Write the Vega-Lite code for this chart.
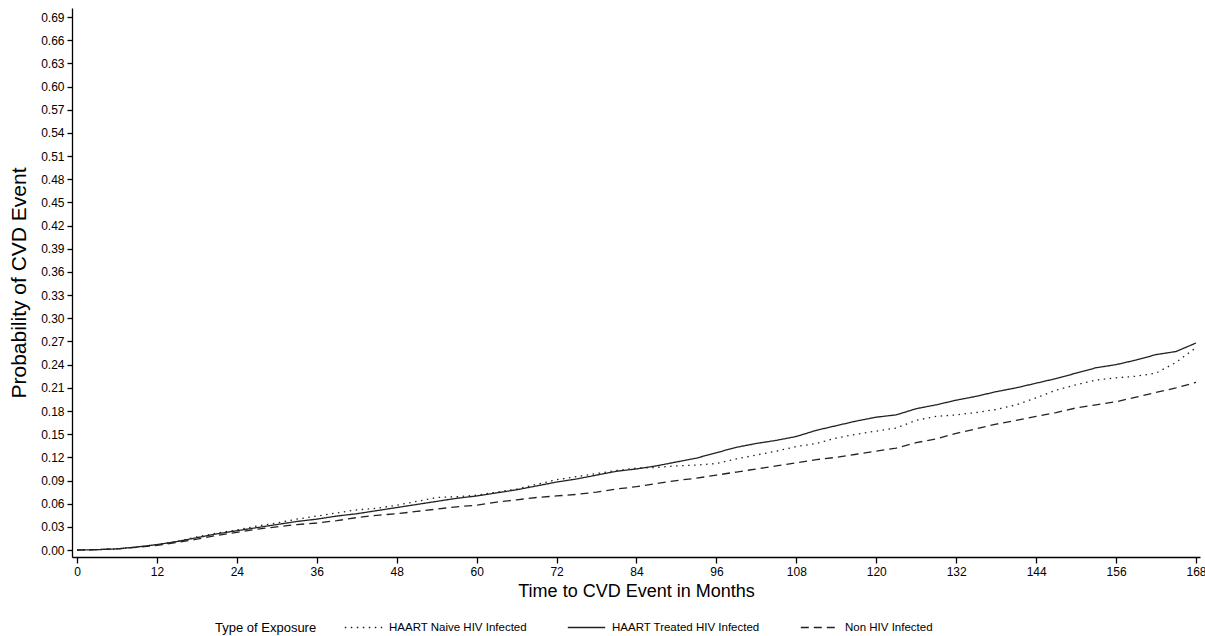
{
"$schema": "https://vega.github.io/schema/vega-lite/v6.json",
"width": 1128, "height": 549,
"autosize": "none",
"padding": {"left": 72, "top": 8, "right": 5, "bottom": 79},
"background": "white",
"config": {"view": {"stroke": null}, "font": "Liberation Sans"},
"data": {"values": [
{"m":0,"p":0,"g":"HAART Naive HIV Infected"},{"m":3,"p":0.0005,"g":"HAART Naive HIV Infected"},{"m":6,"p":0.0015,"g":"HAART Naive HIV Infected"},{"m":9,"p":0.004,"g":"HAART Naive HIV Infected"},{"m":12,"p":0.007,"g":"HAART Naive HIV Infected"},{"m":15,"p":0.011,"g":"HAART Naive HIV Infected"},{"m":18,"p":0.017,"g":"HAART Naive HIV Infected"},{"m":21,"p":0.022,"g":"HAART Naive HIV Infected"},{"m":24,"p":0.026,"g":"HAART Naive HIV Infected"},{"m":27,"p":0.031,"g":"HAART Naive HIV Infected"},{"m":30,"p":0.035,"g":"HAART Naive HIV Infected"},{"m":33,"p":0.040,"g":"HAART Naive HIV Infected"},{"m":36,"p":0.044,"g":"HAART Naive HIV Infected"},{"m":39,"p":0.048,"g":"HAART Naive HIV Infected"},{"m":42,"p":0.052,"g":"HAART Naive HIV Infected"},{"m":45,"p":0.054,"g":"HAART Naive HIV Infected"},{"m":48,"p":0.058,"g":"HAART Naive HIV Infected"},{"m":51,"p":0.063,"g":"HAART Naive HIV Infected"},{"m":54,"p":0.068,"g":"HAART Naive HIV Infected"},{"m":57,"p":0.069,"g":"HAART Naive HIV Infected"},{"m":60,"p":0.071,"g":"HAART Naive HIV Infected"},{"m":63,"p":0.075,"g":"HAART Naive HIV Infected"},{"m":66,"p":0.079,"g":"HAART Naive HIV Infected"},{"m":69,"p":0.085,"g":"HAART Naive HIV Infected"},{"m":72,"p":0.091,"g":"HAART Naive HIV Infected"},{"m":75,"p":0.095,"g":"HAART Naive HIV Infected"},{"m":78,"p":0.099,"g":"HAART Naive HIV Infected"},{"m":81,"p":0.103,"g":"HAART Naive HIV Infected"},{"m":84,"p":0.106,"g":"HAART Naive HIV Infected"},{"m":87,"p":0.107,"g":"HAART Naive HIV Infected"},{"m":90,"p":0.109,"g":"HAART Naive HIV Infected"},{"m":93,"p":0.110,"g":"HAART Naive HIV Infected"},{"m":96,"p":0.112,"g":"HAART Naive HIV Infected"},{"m":99,"p":0.118,"g":"HAART Naive HIV Infected"},{"m":102,"p":0.123,"g":"HAART Naive HIV Infected"},{"m":105,"p":0.128,"g":"HAART Naive HIV Infected"},{"m":108,"p":0.134,"g":"HAART Naive HIV Infected"},{"m":111,"p":0.138,"g":"HAART Naive HIV Infected"},{"m":114,"p":0.145,"g":"HAART Naive HIV Infected"},{"m":117,"p":0.150,"g":"HAART Naive HIV Infected"},{"m":120,"p":0.154,"g":"HAART Naive HIV Infected"},{"m":123,"p":0.158,"g":"HAART Naive HIV Infected"},{"m":126,"p":0.168,"g":"HAART Naive HIV Infected"},{"m":129,"p":0.173,"g":"HAART Naive HIV Infected"},{"m":132,"p":0.175,"g":"HAART Naive HIV Infected"},{"m":135,"p":0.178,"g":"HAART Naive HIV Infected"},{"m":138,"p":0.182,"g":"HAART Naive HIV Infected"},{"m":141,"p":0.188,"g":"HAART Naive HIV Infected"},{"m":144,"p":0.197,"g":"HAART Naive HIV Infected"},{"m":147,"p":0.207,"g":"HAART Naive HIV Infected"},{"m":150,"p":0.214,"g":"HAART Naive HIV Infected"},{"m":153,"p":0.220,"g":"HAART Naive HIV Infected"},{"m":156,"p":0.223,"g":"HAART Naive HIV Infected"},{"m":159,"p":0.225,"g":"HAART Naive HIV Infected"},{"m":162,"p":0.229,"g":"HAART Naive HIV Infected"},{"m":165,"p":0.243,"g":"HAART Naive HIV Infected"},{"m":168,"p":0.262,"g":"HAART Naive HIV Infected"},
{"m":0,"p":0,"g":"HAART Treated HIV Infected"},{"m":3,"p":0.0005,"g":"HAART Treated HIV Infected"},{"m":6,"p":0.0015,"g":"HAART Treated HIV Infected"},{"m":9,"p":0.004,"g":"HAART Treated HIV Infected"},{"m":12,"p":0.007,"g":"HAART Treated HIV Infected"},{"m":15,"p":0.011,"g":"HAART Treated HIV Infected"},{"m":18,"p":0.016,"g":"HAART Treated HIV Infected"},{"m":21,"p":0.021,"g":"HAART Treated HIV Infected"},{"m":24,"p":0.025,"g":"HAART Treated HIV Infected"},{"m":27,"p":0.029,"g":"HAART Treated HIV Infected"},{"m":30,"p":0.033,"g":"HAART Treated HIV Infected"},{"m":33,"p":0.037,"g":"HAART Treated HIV Infected"},{"m":36,"p":0.040,"g":"HAART Treated HIV Infected"},{"m":39,"p":0.044,"g":"HAART Treated HIV Infected"},{"m":42,"p":0.047,"g":"HAART Treated HIV Infected"},{"m":45,"p":0.051,"g":"HAART Treated HIV Infected"},{"m":48,"p":0.055,"g":"HAART Treated HIV Infected"},{"m":51,"p":0.059,"g":"HAART Treated HIV Infected"},{"m":54,"p":0.063,"g":"HAART Treated HIV Infected"},{"m":57,"p":0.067,"g":"HAART Treated HIV Infected"},{"m":60,"p":0.070,"g":"HAART Treated HIV Infected"},{"m":63,"p":0.074,"g":"HAART Treated HIV Infected"},{"m":66,"p":0.078,"g":"HAART Treated HIV Infected"},{"m":69,"p":0.083,"g":"HAART Treated HIV Infected"},{"m":72,"p":0.088,"g":"HAART Treated HIV Infected"},{"m":75,"p":0.092,"g":"HAART Treated HIV Infected"},{"m":78,"p":0.097,"g":"HAART Treated HIV Infected"},{"m":81,"p":0.102,"g":"HAART Treated HIV Infected"},{"m":84,"p":0.105,"g":"HAART Treated HIV Infected"},{"m":87,"p":0.109,"g":"HAART Treated HIV Infected"},{"m":90,"p":0.114,"g":"HAART Treated HIV Infected"},{"m":93,"p":0.119,"g":"HAART Treated HIV Infected"},{"m":96,"p":0.126,"g":"HAART Treated HIV Infected"},{"m":99,"p":0.133,"g":"HAART Treated HIV Infected"},{"m":102,"p":0.138,"g":"HAART Treated HIV Infected"},{"m":105,"p":0.142,"g":"HAART Treated HIV Infected"},{"m":108,"p":0.147,"g":"HAART Treated HIV Infected"},{"m":111,"p":0.155,"g":"HAART Treated HIV Infected"},{"m":114,"p":0.161,"g":"HAART Treated HIV Infected"},{"m":117,"p":0.167,"g":"HAART Treated HIV Infected"},{"m":120,"p":0.172,"g":"HAART Treated HIV Infected"},{"m":123,"p":0.175,"g":"HAART Treated HIV Infected"},{"m":126,"p":0.183,"g":"HAART Treated HIV Infected"},{"m":129,"p":0.188,"g":"HAART Treated HIV Infected"},{"m":132,"p":0.194,"g":"HAART Treated HIV Infected"},{"m":135,"p":0.199,"g":"HAART Treated HIV Infected"},{"m":138,"p":0.205,"g":"HAART Treated HIV Infected"},{"m":141,"p":0.210,"g":"HAART Treated HIV Infected"},{"m":144,"p":0.216,"g":"HAART Treated HIV Infected"},{"m":147,"p":0.222,"g":"HAART Treated HIV Infected"},{"m":150,"p":0.229,"g":"HAART Treated HIV Infected"},{"m":153,"p":0.236,"g":"HAART Treated HIV Infected"},{"m":156,"p":0.240,"g":"HAART Treated HIV Infected"},{"m":159,"p":0.246,"g":"HAART Treated HIV Infected"},{"m":162,"p":0.253,"g":"HAART Treated HIV Infected"},{"m":165,"p":0.257,"g":"HAART Treated HIV Infected"},{"m":168,"p":0.268,"g":"HAART Treated HIV Infected"},
{"m":0,"p":0,"g":"Non HIV Infected"},{"m":3,"p":0.0005,"g":"Non HIV Infected"},{"m":6,"p":0.0015,"g":"Non HIV Infected"},{"m":9,"p":0.0035,"g":"Non HIV Infected"},{"m":12,"p":0.006,"g":"Non HIV Infected"},{"m":15,"p":0.010,"g":"Non HIV Infected"},{"m":18,"p":0.014,"g":"Non HIV Infected"},{"m":21,"p":0.019,"g":"Non HIV Infected"},{"m":24,"p":0.023,"g":"Non HIV Infected"},{"m":27,"p":0.027,"g":"Non HIV Infected"},{"m":30,"p":0.030,"g":"Non HIV Infected"},{"m":33,"p":0.033,"g":"Non HIV Infected"},{"m":36,"p":0.035,"g":"Non HIV Infected"},{"m":39,"p":0.038,"g":"Non HIV Infected"},{"m":42,"p":0.042,"g":"Non HIV Infected"},{"m":45,"p":0.045,"g":"Non HIV Infected"},{"m":48,"p":0.047,"g":"Non HIV Infected"},{"m":51,"p":0.050,"g":"Non HIV Infected"},{"m":54,"p":0.053,"g":"Non HIV Infected"},{"m":57,"p":0.056,"g":"Non HIV Infected"},{"m":60,"p":0.058,"g":"Non HIV Infected"},{"m":63,"p":0.062,"g":"Non HIV Infected"},{"m":66,"p":0.065,"g":"Non HIV Infected"},{"m":69,"p":0.068,"g":"Non HIV Infected"},{"m":72,"p":0.070,"g":"Non HIV Infected"},{"m":75,"p":0.072,"g":"Non HIV Infected"},{"m":78,"p":0.075,"g":"Non HIV Infected"},{"m":81,"p":0.079,"g":"Non HIV Infected"},{"m":84,"p":0.082,"g":"Non HIV Infected"},{"m":87,"p":0.086,"g":"Non HIV Infected"},{"m":90,"p":0.090,"g":"Non HIV Infected"},{"m":93,"p":0.093,"g":"Non HIV Infected"},{"m":96,"p":0.097,"g":"Non HIV Infected"},{"m":99,"p":0.101,"g":"Non HIV Infected"},{"m":102,"p":0.105,"g":"Non HIV Infected"},{"m":105,"p":0.109,"g":"Non HIV Infected"},{"m":108,"p":0.113,"g":"Non HIV Infected"},{"m":111,"p":0.117,"g":"Non HIV Infected"},{"m":114,"p":0.120,"g":"Non HIV Infected"},{"m":117,"p":0.124,"g":"Non HIV Infected"},{"m":120,"p":0.128,"g":"Non HIV Infected"},{"m":123,"p":0.132,"g":"Non HIV Infected"},{"m":126,"p":0.139,"g":"Non HIV Infected"},{"m":129,"p":0.144,"g":"Non HIV Infected"},{"m":132,"p":0.151,"g":"Non HIV Infected"},{"m":135,"p":0.157,"g":"Non HIV Infected"},{"m":138,"p":0.163,"g":"Non HIV Infected"},{"m":141,"p":0.168,"g":"Non HIV Infected"},{"m":144,"p":0.173,"g":"Non HIV Infected"},{"m":147,"p":0.178,"g":"Non HIV Infected"},{"m":150,"p":0.184,"g":"Non HIV Infected"},{"m":153,"p":0.188,"g":"Non HIV Infected"},{"m":156,"p":0.192,"g":"Non HIV Infected"},{"m":159,"p":0.198,"g":"Non HIV Infected"},{"m":162,"p":0.204,"g":"Non HIV Infected"},{"m":165,"p":0.210,"g":"Non HIV Infected"},{"m":168,"p":0.217,"g":"Non HIV Infected"}
]},
"mark": {"type": "line", "color": "#222222", "strokeWidth": 1.3},
"encoding": {
"x": {"field": "m", "type": "quantitative",
 "scale": {"domain": [-0.75, 168.6], "nice": false, "zero": false},
 "axis": {"values": [0,12,24,36,48,60,72,84,96,108,120,132,144,156,168], "title": "Time to CVD Event in Months",
  "titleFont": "Liberation Sans", "titleFontSize": 18, "titleFontWeight": "normal", "titleColor": "black", "titlePadding": 5,
  "labelFont": "Liberation Sans", "labelFontSize": 12, "labelColor": "black", "labelPadding": 3,
  "domainColor": "black", "domainWidth": 1.3, "tickColor": "black", "tickWidth": 1.3, "tickSize": 6, "grid": false}},
"y": {"field": "p", "type": "quantitative",
 "scale": {"domain": [-0.009, 0.7017], "nice": false, "zero": false},
 "axis": {"values": [0,0.03,0.06,0.09,0.12,0.15,0.18,0.21,0.24,0.27,0.30,0.33,0.36,0.39,0.42,0.45,0.48,0.51,0.54,0.57,0.60,0.63,0.66,0.69], "format": ".2f", "title": "Probability of CVD Event",
  "titleFont": "Liberation Sans", "titleFontSize": 21, "titleFontWeight": "normal", "titleColor": "black", "titlePadding": 11,
  "labelFont": "Liberation Sans", "labelFontSize": 12, "labelColor": "black", "labelPadding": 3,
  "domainColor": "black", "domainWidth": 1.3, "tickColor": "black", "tickWidth": 1.3, "tickSize": 5, "grid": false}},
"strokeDash": {"field": "g", "type": "nominal",
 "scale": {"domain": ["HAART Naive HIV Infected", "HAART Treated HIV Infected", "Non HIV Infected"], "range": [[1.5,4.5],[1,0],[8,5]]},
 "legend": {"title": "Type of Exposure", "orient": "none", "legendX": 143, "legendY": 600, "direction": "horizontal", "titleOrient": "left",
  "titleBaseline": "line-top", "titleLineHeight": 14,
  "titleFont": "Liberation Sans", "titleFontSize": 13, "titleFontWeight": "normal", "titleColor": "black", "titlePadding": 27,
  "labelFont": "Liberation Sans", "labelFontSize": 11.5, "labelColor": "black", "labelOffset": 6,
  "symbolType": "stroke", "symbolSize": 1400, "symbolStrokeColor": "#222222", "symbolStrokeWidth": 1.3, "columnPadding": 38}}
}
}
